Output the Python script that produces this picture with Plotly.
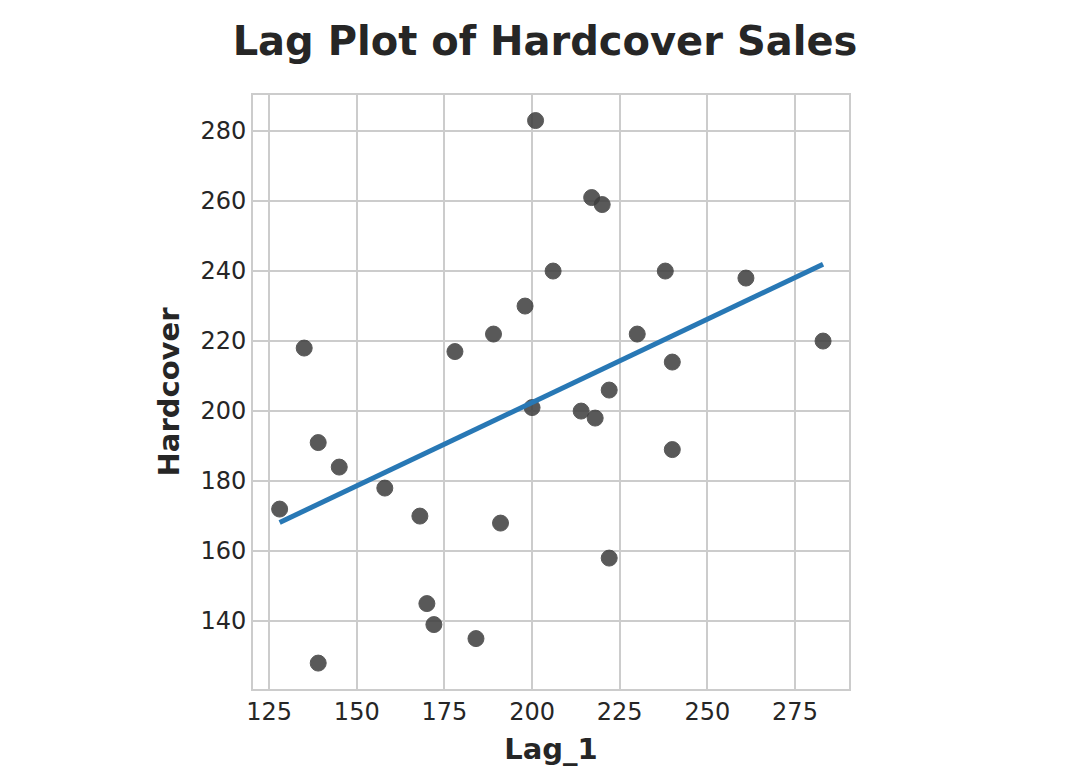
import numpy as np
import plotly.graph_objects as go

# hardcover sales, and the same series shifted by one day
hardcover = [128, 172, 139, 191, 168, 170, 145, 184, 135, 218, 198, 230, 222, 206,
             240, 189, 222, 158, 178, 217, 261, 238, 240, 214, 200, 201, 283, 220, 259]
lag_1 = [139, 128, 172, 139, 191, 168, 170, 145, 184, 135, 218, 198, 230, 222,
         206, 240, 189, 222, 158, 178, 217, 261, 238, 240, 214, 200, 201, 283, 220]

# least squares line like seaborn regplot
slope, intercept = np.polyfit(lag_1, hardcover, 1)
xs = np.array([min(lag_1), max(lag_1)])

fig = go.Figure()
fig.add_trace(go.Scatter(x=lag_1, y=hardcover, mode="markers",
                         marker=dict(color="#3d3d3d", size=16, opacity=0.85,
                                     line=dict(color="#3d3d3d", width=1))))
fig.add_trace(go.Scatter(x=xs, y=slope * xs + intercept, mode="lines",
                         line=dict(color="#2878b5", width=5)))

axis = dict(showgrid=True, gridcolor="#cccccc", gridwidth=1.5, zeroline=False,
            showline=True, linecolor="#cccccc", linewidth=2, mirror=True,
            ticks="", tickfont=dict(size=24, color="#262626"),
            title_font=dict(size=29, color="#262626", family="DejaVu Sans"))

fig.update_layout(
    width=1074, height=778,
    margin=dict(l=245, r=233, t=87, b=97),
    paper_bgcolor="white", plot_bgcolor="white",
    font=dict(family="DejaVu Sans", color="#262626"),
    showlegend=False,
    title=dict(text="<b>Lag Plot of Hardcover Sales</b>", x=0.5, xanchor="center",
               y=0.975, yanchor="top", font=dict(size=40, color="#262626")),
    xaxis=dict(axis, range=[120.4, 290.4], dtick=25, title=dict(text="<b>Lag_1</b>", standoff=14)),
    yaxis=dict(axis, range=[120.6, 290.3], dtick=20, title=dict(text="<b>Hardcover</b>", standoff=12)),
)

fig.write_html("out.html")
